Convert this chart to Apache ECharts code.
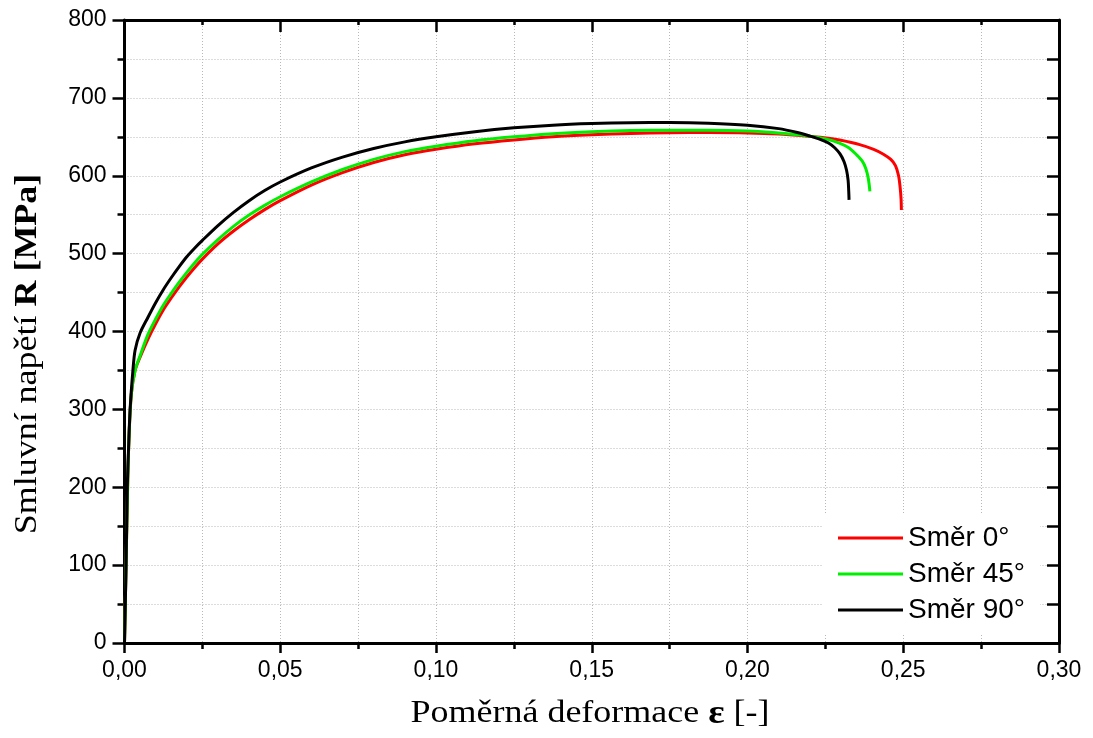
<!DOCTYPE html>
<html>
<head>
<meta charset="utf-8">
<script src="https://cdn.jsdelivr.net/npm/echarts@6/dist/echarts.min.js"></script>
<style>
  html, body { margin: 0; padding: 0; background: #fff; }
  #chart { width: 1093px; height: 738px; }
</style>
</head>
<body>
<div id="chart"></div>
<script>
// Engineering stress–strain curves for three rolling directions
const seriesNames = ['Směr 0°', 'Směr 45°', 'Směr 90°'];
const seriesColors = ['#ff0000', '#00ee00', '#000000'];

// [strain ε, stress R in MPa]
const dir0 = [
  [0, 0], [0.0005, 100], [0.001, 200], [0.0015, 270], [0.0022, 320], [0.0034, 350],
  [0.005, 367], [0.0075, 390], [0.01, 410], [0.0125, 428], [0.015, 443], [0.0175, 457],
  [0.02, 470], [0.0225, 482], [0.025, 493], [0.03, 512.5], [0.035, 529], [0.04, 543.5],
  [0.045, 556.5], [0.05, 568], [0.06, 588], [0.07, 604], [0.08, 617], [0.09, 627],
  [0.1, 634], [0.1125, 641], [0.125, 646], [0.1375, 650], [0.15, 652.5], [0.1625, 654.3],
  [0.175, 655.3], [0.1875, 655.5], [0.2, 655], [0.21, 653.5], [0.22, 650.5], [0.2254, 648.5],
  [0.23, 645.5], [0.236, 640], [0.2405, 634], [0.2435, 628], [0.246, 621], [0.2475, 613],
  [0.2485, 600], [0.249, 585], [0.2493, 570], [0.2494, 556]
];
const dir45 = [
  [0, 0], [0.0005, 100], [0.001, 200], [0.0015, 270], [0.0022, 320], [0.0034, 350],
  [0.005, 369], [0.0075, 396], [0.01, 416], [0.0125, 434], [0.015, 449], [0.0175, 463],
  [0.02, 476], [0.0225, 488], [0.025, 499], [0.03, 518], [0.035, 535], [0.04, 549.5],
  [0.045, 562], [0.05, 573], [0.06, 592], [0.07, 608], [0.08, 621], [0.09, 631],
  [0.1, 638], [0.1125, 645], [0.125, 650], [0.1375, 654], [0.15, 656.5], [0.1625, 658],
  [0.175, 658.5], [0.1875, 658.5], [0.2, 657.5], [0.21, 655], [0.219, 651.5], [0.2254, 647],
  [0.2295, 642], [0.2325, 636], [0.235, 627], [0.2368, 619], [0.238, 609], [0.2388, 596],
  [0.2393, 580]
];
const dir90 = [
  [0, 0], [0.0005, 100], [0.0009, 200], [0.0013, 250], [0.0018, 300], [0.0027, 350],
  [0.0034, 376], [0.005, 398], [0.0075, 418], [0.01, 437], [0.0125, 454], [0.015, 469],
  [0.0175, 483], [0.02, 496], [0.0225, 507], [0.025, 517], [0.03, 536], [0.035, 553],
  [0.04, 568], [0.045, 581], [0.05, 592], [0.06, 610], [0.07, 624], [0.08, 635],
  [0.09, 643.5], [0.1, 650], [0.1125, 656.5], [0.125, 661.5], [0.1375, 665], [0.15, 667],
  [0.1625, 668], [0.175, 668.3], [0.1875, 667.5], [0.2, 665], [0.21, 660.5], [0.216, 655.5],
  [0.22, 651], [0.2235, 646.5], [0.226, 642], [0.228, 636], [0.2297, 628], [0.231, 618],
  [0.2318, 607], [0.2323, 594], [0.2325, 580], [0.2326, 569]
];
const curves = [dir0, dir45, dir90];

// Axis ranges
const xMin = 0, xMax = 0.30, xStep = 0.05;
const yMin = 0, yMax = 800, yStep = 100;

const labelFont = { fontFamily: 'Liberation Sans, Arial, sans-serif', fontSize: 23, color: '#000' };
const gridLine = { show: true, lineStyle: { color: '#b8b8b8', width: 1, type: [1, 2] } };
const axisLineStyle = { show: true, onZero: false, lineStyle: { color: '#000', width: 3 } };
const tickStyle = { color: '#000', width: 2.5 };
const titleFont = 'Liberation Serif, Times New Roman, serif';

const chart = echarts.init(document.getElementById('chart'), null, { renderer: 'canvas' });

chart.setOption({
  animation: false,
  backgroundColor: '#fff',
  grid: { left: 124.5, right: 34, top: 20, bottom: 95, outerBoundsMode: 'none', containLabel: false },
  xAxis: [
    {
      type: 'value', position: 'bottom', min: xMin, max: xMax, interval: xStep,
      axisLine: axisLineStyle,
      axisTick: { show: true, inside: false, length: 10, lineStyle: tickStyle },
      minorTick: { show: true, splitNumber: 2, length: 6, lineStyle: tickStyle },
      splitLine: gridLine,
      minorSplitLine: gridLine,
      axisLabel: Object.assign({ margin: 16, showMinLabel: true, showMaxLabel: true,
        formatter: v => v.toFixed(2).replace('.', ',') }, labelFont)
    },
    {
      type: 'value', position: 'top', min: xMin, max: xMax, interval: xStep,
      axisLine: axisLineStyle,
      axisTick: { show: true, inside: true, length: 12, lineStyle: tickStyle },
      minorTick: { show: true, splitNumber: 2, length: 5, lineStyle: tickStyle },
      splitLine: { show: false }, axisLabel: { show: false }
    }
  ],
  yAxis: [
    {
      type: 'value', position: 'left', min: yMin, max: yMax, interval: yStep,
      axisLine: axisLineStyle,
      axisTick: { show: true, inside: false, length: 12, lineStyle: tickStyle },
      minorTick: { show: true, splitNumber: 2, length: 7, lineStyle: tickStyle },
      splitLine: gridLine,
      minorSplitLine: gridLine,
      axisLabel: Object.assign({ margin: 18, showMinLabel: true, showMaxLabel: true }, labelFont)
    },
    {
      type: 'value', position: 'right', min: yMin, max: yMax, interval: yStep,
      axisLine: axisLineStyle,
      axisTick: { show: true, inside: true, length: 12, lineStyle: tickStyle },
      minorTick: { show: true, splitNumber: 2, length: 12, lineStyle: tickStyle },
      splitLine: { show: false }, axisLabel: { show: false }
    }
  ],
  legend: {
    orient: 'vertical', left: 823, top: 513,
    backgroundColor: '#fff',
    padding: [11, 15, 11, 15],
    icon: 'rect', itemWidth: 65, itemHeight: 3, itemGap: 8, itemTextGap: 8,
    textStyle: { fontFamily: 'Liberation Sans, Arial, sans-serif', fontSize: 28, color: '#000', lineHeight: 28 },
    data: seriesNames
  },
  graphic: [
    {
      type: 'text', x: 590, y: 714, scaleX: 1.16,
      style: {
        text: '{n|Poměrná deformace }{b|ε}{n| [-]}',
        align: 'center', verticalAlign: 'middle',
        rich: {
          n: { fontFamily: titleFont, fontSize: 31, fill: '#000' },
          b: { fontFamily: titleFont, fontSize: 33, fontWeight: 'bold', fill: '#000' }
        }
      }
    },
    {
      type: 'text', x: 28, y: 354, rotation: Math.PI / 2, scaleX: 1.16,
      style: {
        text: '{n|Smluvní napětí }{b|R [MPa]}',
        align: 'center', verticalAlign: 'middle',
        rich: {
          n: { fontFamily: titleFont, fontSize: 31, fill: '#000' },
          b: { fontFamily: titleFont, fontSize: 31, fontWeight: 'bold', fill: '#000' }
        }
      }
    }
  ],
  series: curves.map((d, i) => ({
    name: seriesNames[i],
    type: 'line',
    xAxisIndex: 0, yAxisIndex: 0,
    data: d,
    showSymbol: false,
    smooth: 0.3,
    color: seriesColors[i],
    lineStyle: { color: seriesColors[i], width: 3 },
    z: 3 + i
  }))
});
</script>
</body>
</html>
